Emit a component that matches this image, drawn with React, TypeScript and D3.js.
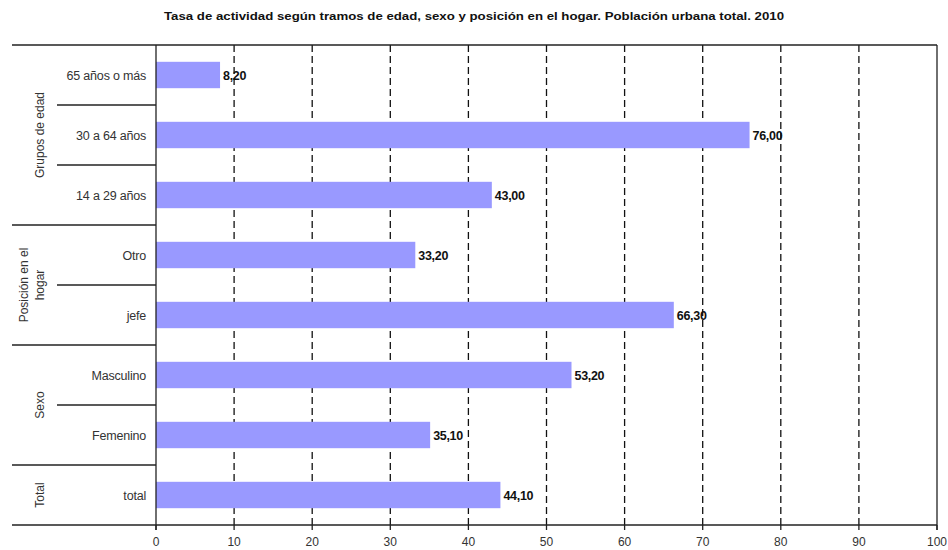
import React from "react";
import * as d3 from "d3";

const title = "Tasa de actividad según tramos de edad, sexo y posición en el hogar. Población urbana total. 2010";
const categories = ["65 años o más", "30 a 64 años", "14 a 29 años", "Otro", "jefe", "Masculino", "Femenino", "total"];
const values = [8.2, 76.0, 43.0, 33.2, 66.3, 53.2, 35.1, 44.1];
const groupNames = [["Grupos de edad"], ["Posición en el", "hogar"], ["Sexo"], ["Total"]];
const groupSizes = [3, 2, 2, 1];
const xTicks = [0, 10, 20, 30, 40, 50, 60, 70, 80, 90, 100];

const W = 948, H = 550;
const left = 156, right = 937, top = 45, bottom = 525, outerLeft = 12, subLeft = 57;
const font = "'Liberation Sans', Arial, sans-serif";

export default function App() {
  const x = d3.scaleLinear().domain([0, 100]).range([left, right]);
  const y = d3.scaleBand<string>().domain(categories).range([top, bottom]).paddingInner(0).paddingOuter(0);
  const bw = y.bandwidth();
  const barH = bw * 0.44;
  const fmt = (v: number) => v.toFixed(2).replace(".", ",");

  const groups: { start: number; end: number; lines: string[] }[] = [];
  let idx = 0;
  groupSizes.forEach((s, i) => {
    groups.push({ start: idx, end: idx + s, lines: groupNames[i] });
    idx += s;
  });

  return (
    <svg width={W} height={H} style={{ position: "absolute", left: 0, top: 0, background: "#fff" }}>
      <text x={474} y={20} textAnchor="middle" fontFamily={font} fontWeight="bold" fontSize={11.5} fill="#111" textLength={620} lengthAdjust="spacingAndGlyphs">{title}</text>
      {xTicks.filter(t => t > 0 && t < 100).map(t => (
        <line key={"g" + t} x1={x(t)} x2={x(t)} y1={top} y2={bottom} stroke="#111" strokeWidth={1.3} strokeDasharray="7,4" />
      ))}
      {categories.map((c, i) => (
        <rect key={c} x={x(0)} y={(y(c) as number) + bw / 2 - barH / 2} width={x(values[i]) - x(0)} height={barH} fill="#9999ff" />
      ))}
      {categories.map((c, i) => (
        <text key={"v" + c} x={x(values[i]) + 3} y={(y(c) as number) + bw / 2 + 4.5} fontFamily={font} fontWeight="bold" fontSize={12.5} fill="#111" letterSpacing={-0.3}>{fmt(values[i])}</text>
      ))}
      {categories.map((c) => (
        <text key={"c" + c} x={left - 10} y={(y(c) as number) + bw / 2 + 4.5} textAnchor="end" fontFamily={font} fontSize={12.5} fill="#333" letterSpacing={-0.2}>{c}</text>
      ))}
      <line x1={outerLeft} x2={right} y1={top} y2={top} stroke="#222" strokeWidth={1.3} />
      <line x1={outerLeft} x2={right} y1={bottom} y2={bottom} stroke="#222" strokeWidth={1.3} />
      <line x1={left} x2={left} y1={top} y2={bottom + 5} stroke="#222" strokeWidth={1.3} />
      <line x1={right} x2={right} y1={top} y2={bottom + 5} stroke="#222" strokeWidth={1.3} />
      {groups.slice(0, -1).map((g, i) => (
        <line key={"gs" + i} x1={outerLeft} x2={left} y1={y(categories[g.end]) as number} y2={y(categories[g.end]) as number} stroke="#222" strokeWidth={1.3} />
      ))}
      {groups.map((g, gi) => categories.slice(g.start + 1, g.end).map((c) => (
        <line key={"ss" + gi + c} x1={subLeft} x2={left} y1={y(c) as number} y2={y(c) as number} stroke="#222" strokeWidth={1.3} />
      )))}
      {groups.map((g, gi) => {
        const cy = ((y(categories[g.start]) as number) + (y(categories[g.end - 1]) as number) + bw) / 2;
        const n = g.lines.length;
        return (
          <text key={"gl" + gi} transform={`translate(${44},${cy}) rotate(-90)`} textAnchor="middle" fontFamily={font} fontSize={12} fill="#333">
            {g.lines.map((l, li) => (
              <tspan key={li} x={0} dy={li === 0 ? -(n - 1) * 16 : 16}>{l}</tspan>
            ))}
          </text>
        );
      })}
      {xTicks.map(t => (
        <g key={"t" + t}>
          <line x1={x(t)} x2={x(t)} y1={bottom} y2={bottom + 5} stroke="#222" strokeWidth={1.3} />
          <text x={x(t)} y={bottom + 21} textAnchor="middle" fontFamily={font} fontSize={12} fill="#333">{t}</text>
        </g>
      ))}
    </svg>
  );
}
